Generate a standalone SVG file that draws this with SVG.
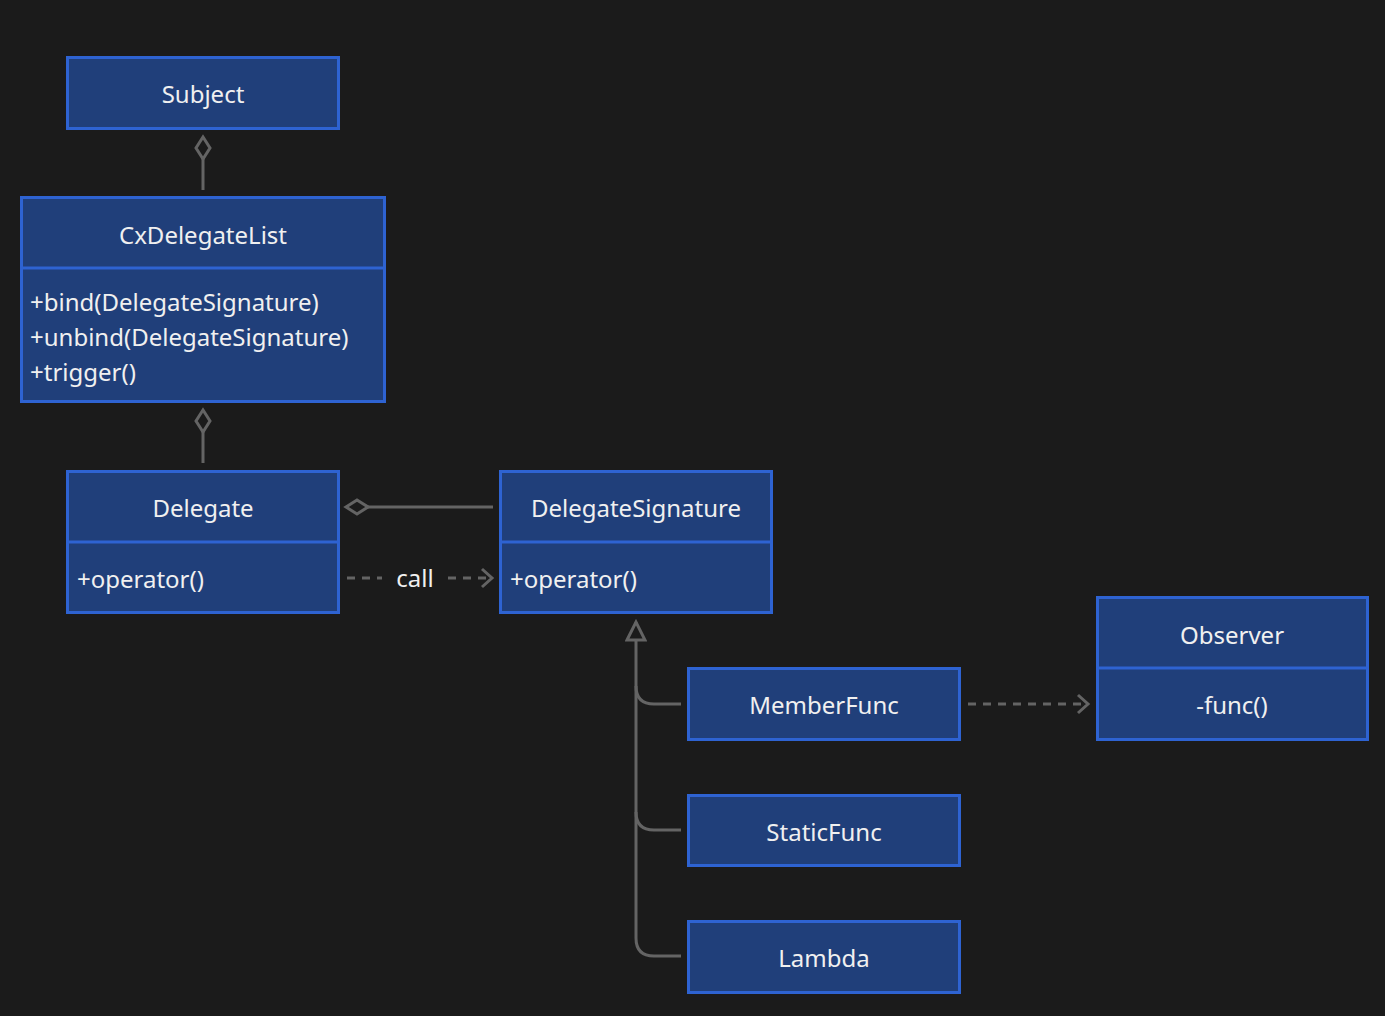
<svg xmlns="http://www.w3.org/2000/svg" width="1385" height="1016" viewBox="0 0 1385 1016">
<defs>
<style>
.box{fill:#203f7a;stroke:#2e63d2;stroke-width:3}
.div{stroke:#2e63d2;stroke-width:3}
.t{font-family:"Noto Sans","Open Sans",sans-serif;font-size:24px;fill:#f0f0f0}
.c{text-anchor:middle}
.ln{fill:none;stroke:#646464;stroke-width:3}
.dash{fill:none;stroke:#646464;stroke-width:3;stroke-dasharray:8 7}
</style>
<marker id="dia" markerWidth="26" markerHeight="18" refX="23" refY="9" orient="auto" markerUnits="userSpaceOnUse">
<path d="M1,9 L12,2 L23,9 L12,16 Z" fill="#1b1b1b" stroke="#646464" stroke-width="3"/>
</marker>
<marker id="open" markerWidth="16" markerHeight="22" refX="13" refY="11" orient="auto" markerUnits="userSpaceOnUse">
<path d="M3,2 L13,11 L3,20" fill="none" stroke="#646464" stroke-width="3"/>
</marker>
<marker id="tri" markerWidth="24" markerHeight="22" refX="20" refY="11" orient="auto" markerUnits="userSpaceOnUse">
<path d="M2,2 L20,11 L2,20 Z" fill="#1b1b1b" stroke="#646464" stroke-width="3"/>
</marker>
</defs>
<rect width="1385" height="1016" fill="#1b1b1b"/>
<g id="connectors">
<path class="ln" d="M203,190 V137" marker-end="url(#dia)"/>
<path class="ln" d="M203,463 V410" marker-end="url(#dia)"/>
<path class="ln" d="M493,507 H346" marker-end="url(#dia)"/>
<path class="dash" d="M347,578 H382"/>
<path class="dash" d="M448,578 H492" marker-end="url(#open)"/>
<text class="t c" x="415" y="587">call</text>
<path class="ln" d="M681,956 H654 Q636,956 636,938 V622" marker-end="url(#tri)"/>
<path class="ln" d="M681,704 H654 Q636,704 636,686"/>
<path class="ln" d="M681,830 H654 Q636,830 636,812"/>
<path class="dash" d="M968,704 H1088" marker-end="url(#open)"/>
</g>
<g id="Subject">
<rect class="box" x="67.5" y="57.5" width="271" height="71"/>
<text class="t c" x="203" y="103">Subject</text>
</g>
<g id="CxDelegateList">
<rect class="box" x="21.5" y="197.5" width="363" height="204"/>
<line class="div" x1="21.5" y1="268" x2="384.5" y2="268"/>
<text class="t c" x="203" y="244">CxDelegateList</text>
<text class="t" x="30" y="311">+bind(DelegateSignature)</text>
<text class="t" x="30" y="346">+unbind(DelegateSignature)</text>
<text class="t" x="30" y="381">+trigger()</text>
</g>
<g id="Delegate">
<rect class="box" x="67.5" y="471.5" width="271" height="141"/>
<line class="div" x1="67.5" y1="542" x2="338.5" y2="542"/>
<text class="t c" x="203" y="517">Delegate</text>
<text class="t" x="77" y="588">+operator()</text>
</g>
<g id="DelegateSignature">
<rect class="box" x="500.5" y="471.5" width="271" height="141"/>
<line class="div" x1="500.5" y1="542" x2="771.5" y2="542"/>
<text class="t c" x="636" y="517">DelegateSignature</text>
<text class="t" x="510" y="588">+operator()</text>
</g>
<g id="Observer">
<rect class="box" x="1097.5" y="597.5" width="270" height="142"/>
<line class="div" x1="1097.5" y1="668" x2="1367.5" y2="668"/>
<text class="t c" x="1232" y="644">Observer</text>
<text class="t c" x="1232" y="714">-func()</text>
</g>
<g id="MemberFunc">
<rect class="box" x="688.5" y="668.5" width="271" height="71"/>
<text class="t c" x="824" y="714">MemberFunc</text>
</g>
<g id="StaticFunc">
<rect class="box" x="688.5" y="795.5" width="271" height="70"/>
<text class="t c" x="824" y="841">StaticFunc</text>
</g>
<g id="Lambda">
<rect class="box" x="688.5" y="921.5" width="271" height="71"/>
<text class="t c" x="824" y="967">Lambda</text>
</g>
</svg>
